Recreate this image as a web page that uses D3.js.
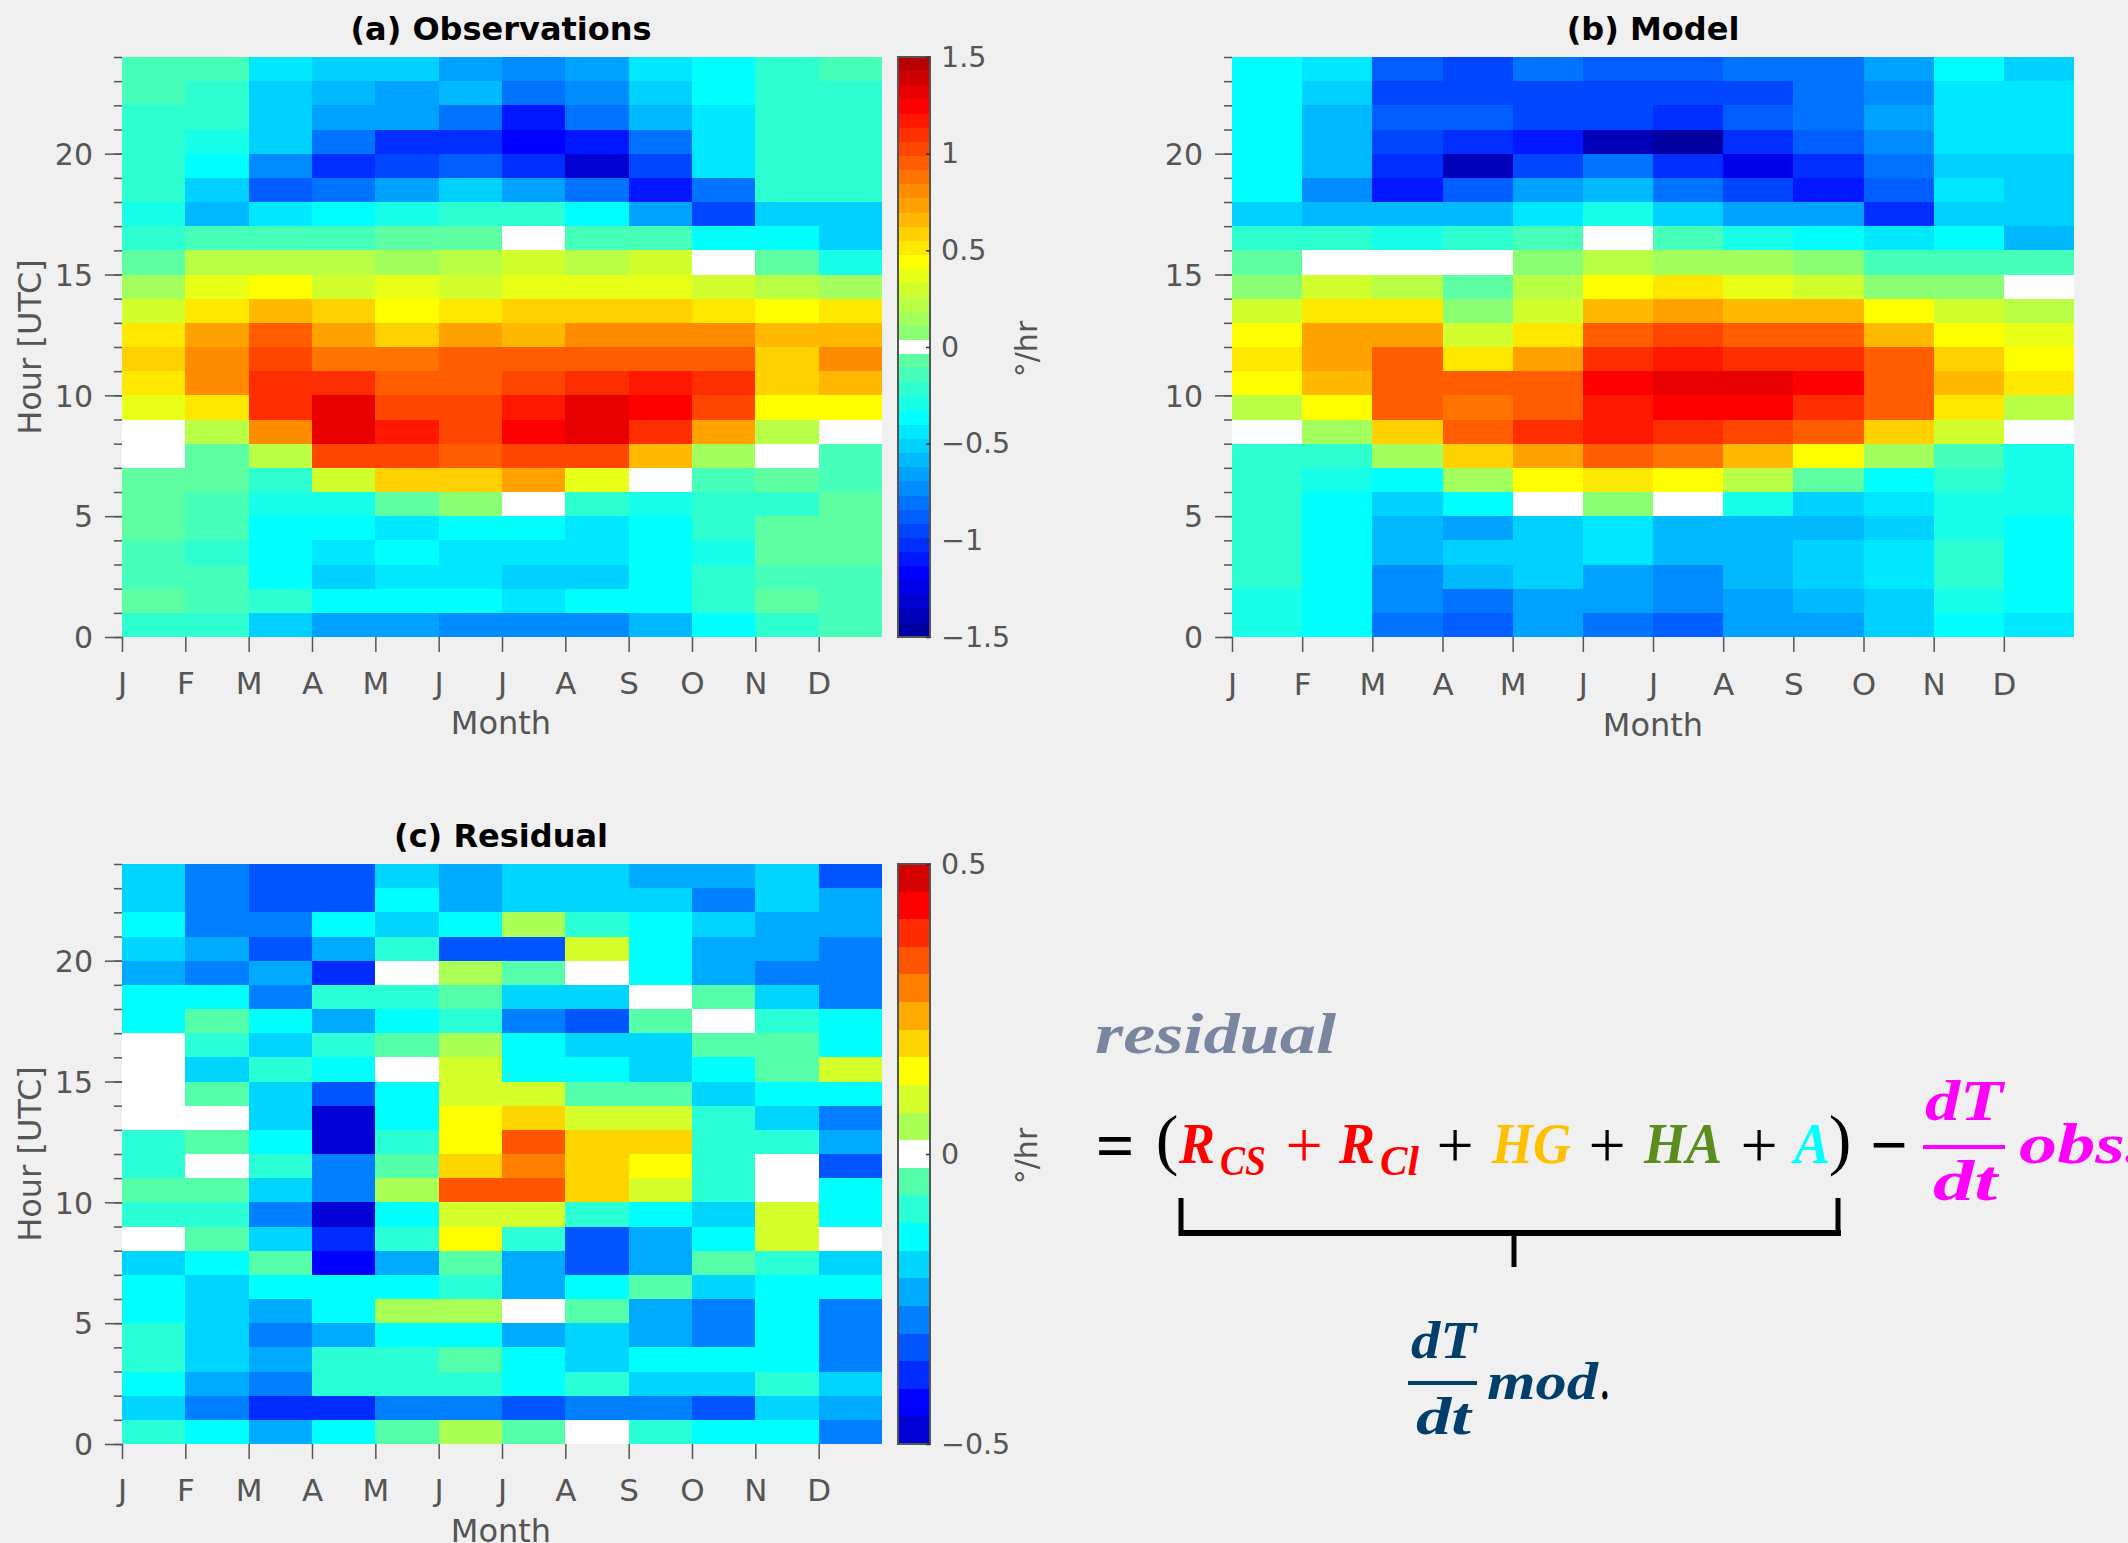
<!DOCTYPE html>
<html><head><meta charset="utf-8">
<script src="https://cdn.jsdelivr.net/npm/d3@7"></script>
<style>html,body{margin:0;padding:0;background:#f0f0f0;overflow:hidden}svg{display:block}
text{font-family:"DejaVu Sans",sans-serif}
.eq{font-family:"Liberation Serif",serif;font-style:italic;font-weight:bold}
.op{font-family:"Liberation Serif",serif}</style>
</head><body><svg id="c" width="2128" height="1543"></svg>
<script>
const months = ["J","F","M","A","M","J","J","A","S","O","N","D"];
const hourTicks = [0,5,10,15,20];
// Values, as colour-bar steps away from zero; rows run from hour 23 (top) down to hour 0.
const obsSteps = [
[-2,-2,-6,-7,-7,-9,-10,-9,-6,-5,-3,-2],
[-2,-3,-7,-8,-9,-8,-11,-10,-7,-5,-3,-3],
[-3,-3,-7,-9,-9,-11,-15,-11,-8,-6,-3,-3],
[-3,-4,-7,-11,-14,-14,-16,-15,-11,-6,-3,-3],
[-3,-5,-10,-14,-13,-12,-14,-18,-13,-6,-3,-3],
[-3,-7,-12,-11,-9,-7,-9,-11,-15,-11,-3,-3],
[-4,-8,-6,-5,-4,-3,-3,-5,-9,-13,-7,-7],
[-3,-2,-2,-2,-1,-1,0,-2,-2,-5,-5,-7],
[-1,3,3,3,2,3,4,3,4,0,-1,-4],
[2,5,6,4,5,4,5,5,5,4,3,2],
[4,7,9,8,6,7,8,8,8,7,6,7],
[7,10,13,10,8,10,9,11,11,11,9,9],
[8,11,14,12,12,13,13,13,13,13,8,11],
[7,11,15,15,13,13,14,15,16,15,8,9],
[5,7,15,18,14,14,16,18,17,14,6,6],
[0,3,11,18,16,14,17,18,15,10,3,0],
[0,-1,3,14,14,13,14,14,9,2,0,-2],
[-1,-1,-3,4,8,8,10,5,0,-2,-1,-2],
[-1,-2,-4,-4,-1,1,0,-3,-4,-3,-3,-1],
[-1,-2,-5,-5,-6,-5,-5,-6,-5,-3,-1,-1],
[-2,-3,-5,-6,-5,-6,-6,-6,-5,-4,-1,-1],
[-2,-2,-5,-7,-6,-6,-7,-7,-5,-3,-2,-2],
[-1,-2,-3,-5,-5,-5,-6,-5,-5,-3,-1,-2],
[-3,-3,-7,-9,-9,-10,-10,-10,-8,-5,-3,-2]];
const modSteps = [
[-5,-6,-12,-13,-11,-12,-12,-11,-11,-9,-5,-7],
[-5,-7,-13,-13,-13,-13,-13,-13,-11,-10,-6,-6],
[-5,-8,-12,-12,-13,-13,-14,-12,-11,-9,-6,-6],
[-5,-8,-13,-14,-15,-19,-20,-14,-12,-10,-6,-6],
[-5,-8,-14,-19,-13,-11,-14,-17,-14,-11,-7,-7],
[-5,-10,-15,-12,-9,-8,-11,-13,-15,-12,-6,-7],
[-7,-8,-8,-8,-6,-4,-7,-9,-9,-14,-7,-7],
[-3,-3,-4,-3,-2,0,-2,-4,-5,-6,-5,-8],
[-1,0,0,0,1,3,2,2,1,-2,-2,-2],
[1,4,3,-1,3,6,7,5,4,1,1,0],
[4,7,7,1,4,9,10,9,9,6,4,3],
[6,10,10,4,7,13,14,13,13,9,6,5],
[7,10,13,7,10,15,16,15,15,13,8,6],
[6,9,13,13,13,17,18,18,17,13,9,7],
[3,6,13,12,13,16,17,17,15,13,7,3],
[0,2,8,13,15,16,15,14,13,8,4,0],
[-3,-3,2,8,10,13,12,9,6,2,-2,-4],
[-3,-4,-5,2,6,7,6,3,-1,-5,-3,-4],
[-3,-5,-7,-5,0,1,0,-4,-7,-6,-4,-4],
[-3,-5,-8,-9,-7,-6,-8,-8,-8,-7,-4,-5],
[-3,-5,-8,-7,-7,-6,-8,-8,-7,-6,-3,-5],
[-3,-5,-10,-8,-7,-9,-10,-8,-7,-6,-3,-5],
[-4,-5,-10,-11,-9,-9,-10,-9,-8,-7,-4,-5],
[-4,-5,-11,-12,-9,-11,-12,-9,-9,-7,-5,-6]];
const resSteps = [
[-4,-6,-7,-7,-4,-5,-4,-4,-5,-5,-4,-7],
[-4,-6,-7,-7,-3,-5,-4,-4,-4,-6,-4,-5],
[-3,-6,-6,-3,-4,-3,1,-2,-3,-4,-5,-5],
[-4,-5,-7,-5,-2,-7,-7,2,-3,-5,-5,-6],
[-5,-6,-5,-8,0,1,-1,0,-3,-5,-6,-6],
[-3,-3,-6,-2,-2,-1,-4,-4,0,-1,-4,-6],
[-3,-1,-3,-5,-3,-2,-6,-7,-1,0,-2,-3],
[0,-2,-4,-2,-1,1,-3,-4,-4,-1,-1,-3],
[0,-4,-2,-3,0,2,-3,-3,-4,-3,-1,2],
[0,-1,-4,-7,-3,2,2,-1,-1,-4,-3,-3],
[0,0,-4,-10,-3,3,4,2,2,-2,-4,-6],
[-2,-1,-3,-10,-2,3,7,4,4,-2,-2,-5],
[-2,0,-2,-6,-1,4,6,4,3,-2,0,-7],
[-1,-1,-4,-6,1,7,7,4,2,-2,0,-3],
[-2,-2,-6,-10,-3,2,2,-2,-3,-4,2,-3],
[0,-1,-4,-8,-2,3,-2,-7,-5,-3,2,0],
[-4,-3,-1,-9,-5,-1,-5,-7,-5,-1,-2,-4],
[-3,-4,-3,-3,-3,-2,-5,-3,-1,-4,-3,-3],
[-3,-4,-5,-3,1,1,0,-1,-5,-6,-3,-6],
[-2,-4,-6,-5,-3,-3,-5,-4,-5,-6,-3,-6],
[-2,-4,-5,-2,-2,-1,-3,-4,-3,-3,-3,-6],
[-3,-5,-6,-2,-2,-2,-3,-2,-4,-4,-2,-4],
[-4,-6,-8,-8,-6,-6,-7,-6,-6,-7,-4,-5],
[-2,-3,-5,-3,-1,1,-1,0,-2,-3,-3,-6]];
const wideTicks = [-1.5,-1,-0.5,0,0.5,1,1.5];
const narrowTicks = [-0.5,0,0.5];

const svg = d3.select("#c");
const GRAY = "#555";

// Discrete jet colour map of N entries, middle entry white
function jetLevels(N){
  const n = Math.ceil(N/4);
  const u = [...d3.range(1,n+1).map(i=>i/n), ...Array(n-1).fill(1), ...d3.range(n,0,-1).map(i=>i/n)];
  const off = Math.ceil(n/2) - (N%4===1 ? 1 : 0);
  const at = (p,s) => { const v = u[p-s-1]; return v===undefined ? 0 : v; };
  const mid = (N+1)/2;
  return d3.range(1,N+1).map(p => p===mid ? "#ffffff" :
    d3.rgb(255*at(p,off+n),255*at(p,off),255*at(p,off-n)).formatHex());
}
function makeColor(half, max){
  return d3.scaleQuantize().domain([-max,max]).range(jetLevels(2*half+1));
}
function fmt(v){ return String(v).replace("-","\u2212"); }

function heat(o){
  const x = d3.scaleLinear().domain([0,12]).range([o.x0,o.x1]);
  const y = d3.scaleLinear().domain([0,24]).range([o.y1,o.y0]);
  const half = o.half;
  const step = 2*o.max/(2*half+1);
  const color = makeColor(half,o.max);
  const g = svg.append("g");
  const cells = o.rows.flatMap((r,i)=>r.map((k,m)=>({h:23-i,m,v:k*step})));
  g.selectAll("rect").data(cells).join("rect")
    .attr("x",d=>x(d.m)).attr("width",d=>x(d.m+1)-x(d.m))
    .attr("y",d=>y(d.h+1)).attr("height",d=>y(d.h)-y(d.h+1))
    .attr("fill",d=>color(d.v)).attr("shape-rendering","crispEdges");
  const ax = svg.append("g").attr("transform",`translate(0,${o.y1})`)
    .call(d3.axisBottom(x).tickValues(d3.range(12)).tickFormat(i=>months[i]).tickSize(15).tickPadding(o.xPad));
  ax.select(".domain").remove();
  ax.selectAll("line").attr("stroke",GRAY).attr("stroke-width",1.5);
  ax.selectAll("text").attr("fill",GRAY).style("font-size","31px").style("font-family",'"DejaVu Sans",sans-serif');
  const minor = svg.append("g").attr("transform",`translate(${o.x0},0)`)
    .call(d3.axisLeft(y).tickValues(d3.range(0,25)).tickSize(8).tickFormat(""));
  minor.select(".domain").remove();
  minor.selectAll("line").attr("stroke",GRAY).attr("stroke-width",1.5);
  const ay = svg.append("g").attr("transform",`translate(${o.x0},0)`)
    .call(d3.axisLeft(y).tickValues(hourTicks).tickSize(17).tickPadding(12));
  ay.select(".domain").remove();
  ay.selectAll("line").attr("stroke",GRAY).attr("stroke-width",1.5);
  ay.selectAll("text").attr("fill",GRAY).attr("dy","0.36em").style("font-size","30px").style("font-family",'"DejaVu Sans",sans-serif');
  svg.append("text").attr("x",o.titleX).attr("y",o.titleY).attr("text-anchor","middle")
    .attr("font-weight","bold").attr("font-size",32).attr("fill","#000").text(o.title);
  svg.append("text").attr("x",o.titleX).attr("y",o.monthY).attr("text-anchor","middle")
    .attr("font-size",32).attr("fill",GRAY).text("Month");
  if(o.yLabel){
    svg.append("text").attr("transform",`translate(41,${(o.y0+o.y1)/2}) rotate(-90)`).attr("text-anchor","middle")
      .attr("font-size",32).attr("fill",GRAY).text("Hour [UTC]");
  }
  if(o.ticks){
    const cx0=898,cx1=930;
    const cy = d3.scaleLinear().domain([-o.max,o.max]).range([o.y1,o.y0]);
    const levels = d3.range(-half,half+1);
    svg.append("g").selectAll("rect").data(levels).join("rect")
      .attr("x",cx0).attr("width",cx1-cx0)
      .attr("y",k=>cy((k+0.5)*step)).attr("height",k=>cy((k-0.5)*step)-cy((k+0.5)*step))
      .attr("fill",k=>color(k*step)).attr("shape-rendering","crispEdges");
    svg.append("rect").attr("x",cx0).attr("y",o.y0).attr("width",cx1-cx0).attr("height",o.y1-o.y0)
      .attr("fill","none").attr("stroke",GRAY).attr("stroke-width",2);
    const ac = svg.append("g").attr("transform",`translate(${cx1},0)`)
      .call(d3.axisRight(cy).tickValues(o.ticks).tickSize(-4).tickPadding(12).tickFormat(fmt));
    ac.select(".domain").remove();
    ac.selectAll("line").attr("stroke","#333").attr("stroke-width",1.5);
    ac.selectAll("text").attr("fill",GRAY).attr("x",11).style("font-size","28.5px").style("font-family",'"DejaVu Sans",sans-serif');
    svg.append("text").attr("transform",`translate(1037,${(o.y0+o.y1)/2+2}) rotate(-90)`).attr("text-anchor","middle")
      .attr("font-size",30).attr("fill",GRAY).text("\u00b0/hr");
  }
}

heat({rows:obsSteps,half:20,max:1.5,x0:122,x1:882,y0:57,y1:637,title:"(a) Observations",titleX:501,titleY:40,monthY:734,yLabel:true,ticks:wideTicks,xPad:20});
heat({rows:modSteps,half:20,max:1.5,x0:1232,x1:2074,y0:57,y1:637,title:"(b) Model",titleX:1653,titleY:40,monthY:736,yLabel:false,ticks:null,xPad:21});
heat({rows:resSteps,half:10,max:0.5,x0:122,x1:882,y0:864,y1:1444,title:"(c) Residual",titleX:501,titleY:847,monthY:1542,yLabel:true,ticks:narrowTicks,xPad:20});

// Equation annotation
const equationTerms = [
 ["residual",1095,1053,241,58,"#7a869f"],
 ["R",1179,1163,36,58,"#ff0000"],["CS",1220,1175,46,43,"#ff0000"],
 ["R",1339,1163,36,58,"#ff0000"],["Cl",1380,1175,39,43,"#ff0000"],
 ["HG",1492,1163,79,58,"#ffc000"],["HA",1644,1163,78,58,"#5b8c1e"],["A",1794,1163,36,58,"#00ffff"],
 ["dT",1925,1120,78,58,"#ff00ff"],["dt",1933,1200,64,58,"#ff00ff"],["obs.",2019,1163,125,58,"#ff00ff"],
 ["dT",1411,1358,65,52,"#003f6b"],["dt",1416,1434,55,52,"#003f6b"],["mod",1487,1399,111,52,"#003f6b"],[".",1602,1399,8,52,"#000"]
];
svg.append("g").selectAll("text").data(equationTerms).join("text").attr("class","eq")
  .attr("x",d=>d[1]).attr("y",d=>d[2]).attr("textLength",d=>d[3]).attr("lengthAdjust","spacingAndGlyphs")
  .attr("font-size",d=>d[4]).attr("fill",d=>d[5]).text(d=>d[0]);
const equationOps = [
 ["=",1115,1168,"#000",68,"bold"],["(",1167,1162,"#000",68,"normal"],["+",1304,1167,"#ff0000",66,"normal"],["+",1455,1167,"#000",66,"normal"],
 ["+",1607,1167,"#000",66,"normal"],["+",1759,1167,"#000",66,"normal"],[")",1840,1162,"#000",68,"normal"],["\u2212",1889,1167,"#000",66,"bold"]
];
svg.append("g").selectAll("text").data(equationOps).join("text").attr("class","op")
  .attr("x",d=>d[1]).attr("y",d=>d[2]).attr("text-anchor","middle").attr("fill",d=>d[3]).attr("font-size",d=>d[4]).attr("font-weight",d=>d[5]).text(d=>d[0]);
const equationBars = [
 [1923,1147,2005,1147,4,"#ff00ff"],[1408,1383,1477,1383,4,"#003f6b"],
 [1181,1198,1181,1236,5,"#000"],[1838,1198,1838,1236,5,"#000"],[1179,1233,1841,1233,6,"#000"],[1514,1236,1514,1267,5,"#000"]
];
svg.append("g").selectAll("line").data(equationBars).join("line")
  .attr("x1",d=>d[0]).attr("y1",d=>d[1]).attr("x2",d=>d[2]).attr("y2",d=>d[3]).attr("stroke-width",d=>d[4]).attr("stroke",d=>d[5]);
</script></body></html>
